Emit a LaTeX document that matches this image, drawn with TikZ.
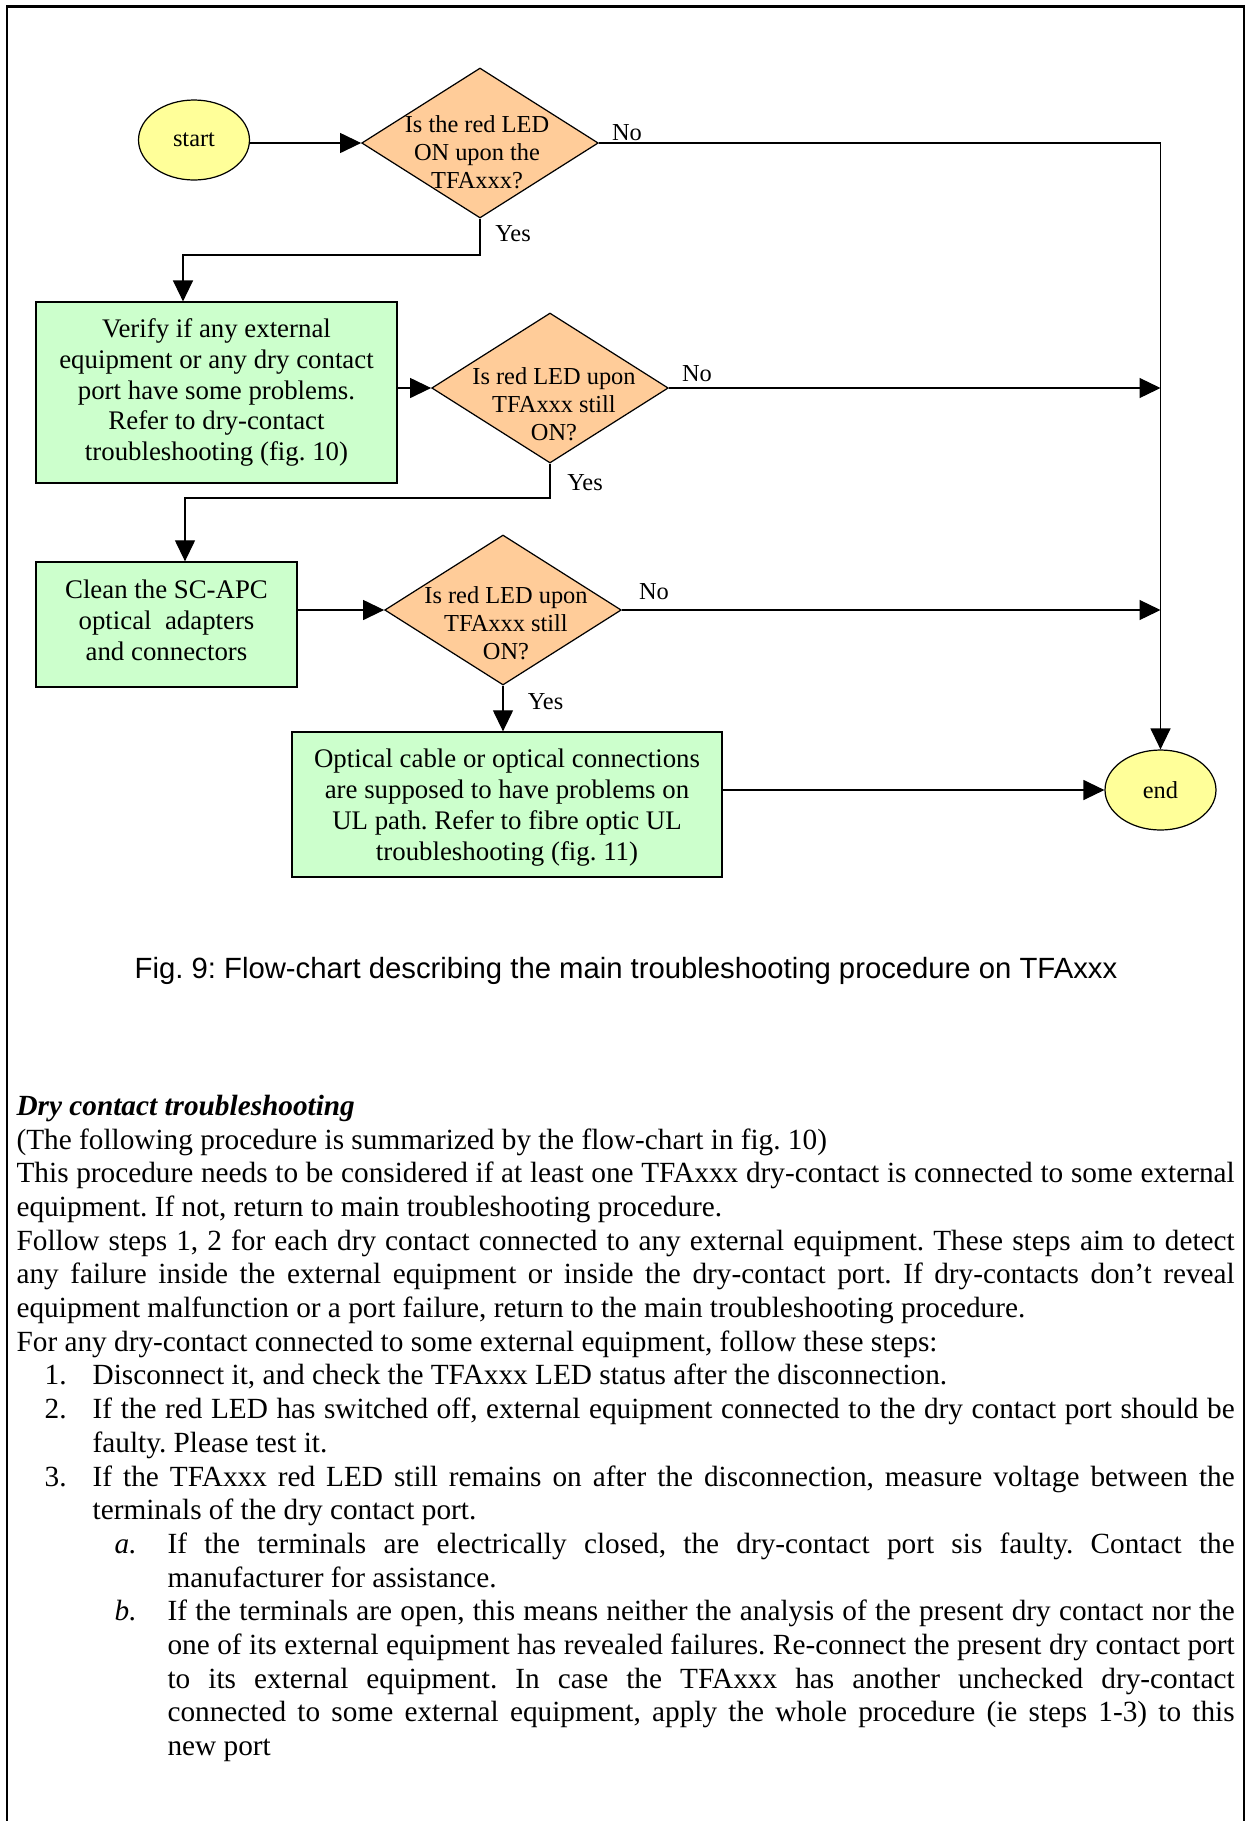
\documentclass[tikz,border=0pt]{standalone}
\usepackage{fontspec}
\setmainfont{Liberation Serif}
\setsansfont{Liberation Sans}
\usetikzlibrary{shapes.geometric, arrows.meta, positioning}
\definecolor{termyellow}{HTML}{FFFF99}
\definecolor{askpeach}{HTML}{FFCC99}
\definecolor{dogreen}{HTML}{CCFFCC}
\newcommand{\stepitem}[4]{{\leftskip=#1\relax\noindent\llap{\makebox[#2][l]{#3}}#4\par}}
\frenchspacing

\begin{document}
\begin{tikzpicture}[x=0.41pt,y=-0.41pt,>={Triangle[length=8.6pt,width=8.2pt]},line width=0.5pt,
    terminal/.style={ellipse,draw,fill=termyellow,minimum width=45.5pt,minimum height=32.8pt,inner sep=0pt,font=\fontsize{10}{11.5}\selectfont},
    decision/.style={diamond,draw,fill=askpeach,minimum width=97pt,minimum height=61.5pt,inner sep=0pt},
    ask/.style={align=center,inner sep=0pt,font=\fontsize{10}{11.5}\selectfont},
    action/.style={rectangle,draw,fill=dogreen,align=center,inner sep=0pt,font=\fontsize{11}{12.65}\selectfont},
    answer/.style={anchor=base,inner sep=0pt,font=\fontsize{10}{12}\selectfont}]
  \useasboundingbox (0,0) rectangle (1246,1821);
  \draw[line width=0.9pt] (7,1821) -- (7,6.5) -- (1244,6.5) -- (1244,1821);

  \node[terminal] (start) at (194,140) {start};
  \node[decision] (q1) at (480,143) {};
  \node[ask] (q1t) at (477,152) {Is the red LED\\ON upon the\\TFAxxx?};
  \node[action,minimum width=148pt,minimum height=74.2pt] (verify) at (216.5,392.5)
    {Verify if any external\\equipment or any dry contact\\port have some problems.\\Refer to dry-contact\\troubleshooting (fig. 10)};
  \node[decision] (q2) at (550,388) {};
  \node[ask] (q2t) at (554,404) {Is red LED upon\\TFAxxx still\\ON?};
  \node[action,minimum width=107pt,minimum height=51.3pt] (clean) at (166.5,624.5)
    {Clean the SC-APC\\optical\ \ adapters\\and connectors\rule[-3.8pt]{0pt}{3.8pt}};
  \node[decision] (q3) at (503,610) {};
  \node[ask] (q3t) at (506,623.5) {Is red LED upon\\TFAxxx still\\ON?};
  \node[action,minimum width=176.3pt,minimum height=59.5pt] (optic) at (507,804.5)
    {\rule{0pt}{10pt}Optical cable or optical connections\\are supposed to have problems on\\UL path. Refer to fibre optic UL\\troubleshooting (fig. 11)};
  \node[terminal] (finish) at (1160.5,790) {end};

  \coordinate (turn1) at (183,255);
  \coordinate (turn2) at (185,498);
  \draw[->] (start.east |- q1) -- (q1.west);
  \draw[->] (q1.east) -| (finish.north);
  \draw[->] (q1.south) |- (turn1) -- (turn1 |- verify.north);
  \draw[->] (verify.east |- q2) -- (q2.west);
  \draw[->] (q2.east) -- (q2 -| finish);
  \draw[->] (q2.south) |- (turn2) -- (turn2 |- clean.north);
  \draw[->] (clean.east |- q3) -- (q3.west);
  \draw[->] (q3.east) -- (q3 -| finish);
  \draw[->] (q3.south) -- (q3.south |- optic.north);
  \draw[->] (optic.east |- finish) -- (finish.west);

  \node[answer] (no1) at (627,140) {No};
  \node[answer] (yes1) at (513,241) {Yes};
  \node[answer] (no2) at (697,381) {No};
  \node[answer] (yes2) at (585,490.5) {Yes};
  \node[answer] (no3) at (654,599) {No};
  \node[answer] (yes3) at (545.5,709) {Yes};

  \node[font=\sffamily\fontsize{12}{14}\selectfont] (caption) at (626,970.5)
    {Fig. 9: Flow-chart describing the main troubleshooting procedure on TFAxxx};

  \node[anchor=base west,text width=499.4pt,align=justify,inner sep=0pt,font=\fontsize{12}{13.81}\selectfont] (dryhelp) at (16,1115.5) {%
    \parindent=0pt\hyphenpenalty=10000\exhyphenpenalty=10000\tolerance=9999\emergencystretch=20pt
    \textbf{\textit{Dry contact troubleshooting}}\par
    (The following procedure is summarized by the flow-chart in fig. 10)\par
    This procedure needs to be considered if at least one TFAxxx dry-contact is connected to some external\linebreak
    equipment. If not, return to main troubleshooting procedure.\par
    Follow steps 1, 2 for each dry contact connected to any external equipment. These steps aim to detect\linebreak
    any failure inside the external equipment or inside the dry-contact port. If dry-contacts don’t reveal\linebreak
    equipment malfunction or a port failure, return to the main troubleshooting procedure.\par
    For any dry-contact connected to some external equipment, follow these steps:\par
    \stepitem{31.2pt}{19.7pt}{1.}{Disconnect it, and check the TFAxxx LED status after the disconnection.}
    \stepitem{31.2pt}{19.7pt}{2.}{If the red LED has switched off, external equipment connected to the dry contact port should be\linebreak
      faulty. Please test it.}
    \stepitem{31.2pt}{19.7pt}{3.}{If the TFAxxx red LED still remains on after the disconnection, measure voltage between the\linebreak
      terminals of the dry contact port.}
    \stepitem{61.9pt}{21.7pt}{\textit{a.}}{If the terminals are electrically closed, the dry-contact port sis faulty. Contact the\linebreak
      manufacturer for assistance.}
    \stepitem{61.9pt}{21.7pt}{\textit{b.}}{If the terminals are open, this means neither the analysis of the present dry contact nor the\linebreak
      one of its external equipment has revealed failures. Re-connect the present dry contact port\linebreak
      to its external equipment. In case the TFAxxx has another unchecked dry-contact\linebreak
      connected to some external equipment, apply the whole procedure (ie steps 1-3) to this\linebreak
      new port}
  };
\end{tikzpicture}
\end{document}
